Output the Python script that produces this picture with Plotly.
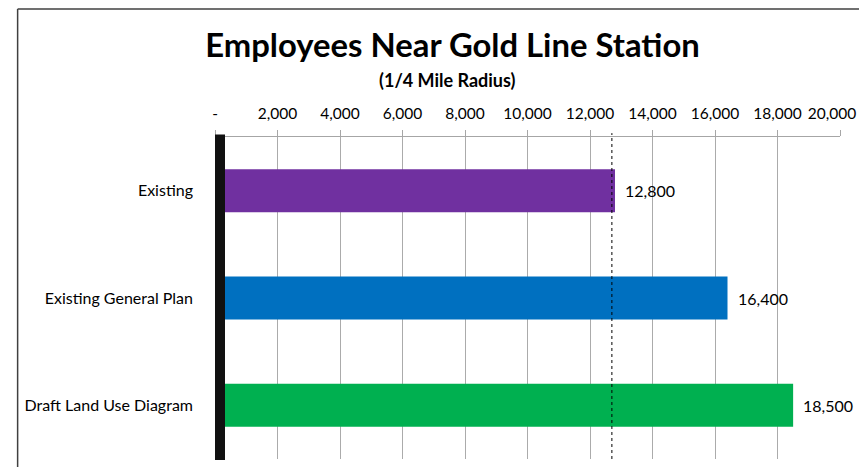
import plotly.graph_objects as go

categories = ["Existing", "Existing General Plan", "Draft Land Use Diagram"]
employees = [12800, 16400, 18500]
bar_colors = ["#7030A0", "#0070C0", "#00B050"]
tick_values = [0, 2000, 4000, 6000, 8000, 10000, 12000, 14000, 16000, 18000, 20000]
tick_labels = ["-", "2,000", "4,000", "6,000", "8,000", "10,000", "12,000",
               "14,000", "16,000", "18,000", "20,000\u00a0\u00a0\u00a0\u00a0"]
reference_line = 12700
title_text = "Employees Near Gold Line Station"
subtitle_text = "(1/4 Mile Radius)"

FONT = "Lato"

fig = go.Figure()
fig.add_trace(go.Bar(
    x=employees, y=categories, orientation="h",
    marker=dict(color=bar_colors, line=dict(width=0)),
    width=0.4, hoverinfo="skip",
))

for v, c in zip(employees, categories):
    fig.add_annotation(x=v, y=c, xref="x", yref="y", text=f"{v:,}",
                       showarrow=False, xanchor="left", xshift=8,
                       font=dict(family=FONT, size=16, color="#000000"))

# reference dotted line
fig.add_shape(type="line", xref="x", yref="paper", x0=reference_line, x1=reference_line,
              y0=0, y1=1.012, line=dict(color="#000000", width=1, dash="dot"), layer="above")
# thick black vertical axis bar
fig.add_shape(type="rect", xref="x", yref="paper", xsizemode="pixel", xanchor=0,
              x0=-6, x1=10, y0=-0.003, y1=1.008, fillcolor="#111111",
              line=dict(width=0), layer="above")
# chart frame (left and top edges)
fig.add_shape(type="line", xref="paper", yref="paper", x0=-0.3158, x1=-0.3158,
              y0=-0.1, y1=1.3975, line=dict(color="#404040", width=1.5))
fig.add_shape(type="line", xref="paper", yref="paper", x0=-0.3158, x1=1.1,
              y0=1.3975, y1=1.3975, line=dict(color="#404040", width=1.5))

fig.add_annotation(text=subtitle_text, xref="paper", yref="paper", x=0.3725, y=1.177,
                   showarrow=False, xanchor="center", yanchor="middle",
                   font=dict(family=FONT, size=18, color="#000000", weight="bold"))

fig.update_layout(
    width=859, height=459,
    margin=dict(l=207, r=27, t=129, b=8, autoexpand=False),
    paper_bgcolor="#ffffff", plot_bgcolor="#ffffff",
    showlegend=False,
    bargap=0.6,
    title=dict(text=title_text, x=0.5175, xanchor="center", y=0.9172, yanchor="middle",
               xref="container", yref="container",
               font=dict(family=FONT, size=32.8, color="#000000", weight="bold")),
    xaxis=dict(side="top", range=[0, 20000], tickvals=tick_values, ticktext=tick_labels,
               showgrid=True, gridcolor="#ababab", gridwidth=1,
               showline=True, linecolor="#a6a6a6", linewidth=1,
               ticks="outside", ticklen=6, tickcolor="#a6a6a6",
               tickfont=dict(family=FONT, size=15.5, color="#000000"),
               ticklabelstandoff=5, ticklabeloverflow="allow",
               zeroline=False, fixedrange=True, automargin=False),
    yaxis=dict(autorange="reversed", showgrid=False, zeroline=False, showline=False,
               ticks="", tickfont=dict(family=FONT, size=16, color="#000000"),
               ticklabelstandoff=21, fixedrange=True, automargin=False),
)

fig.write_html("out.html")
